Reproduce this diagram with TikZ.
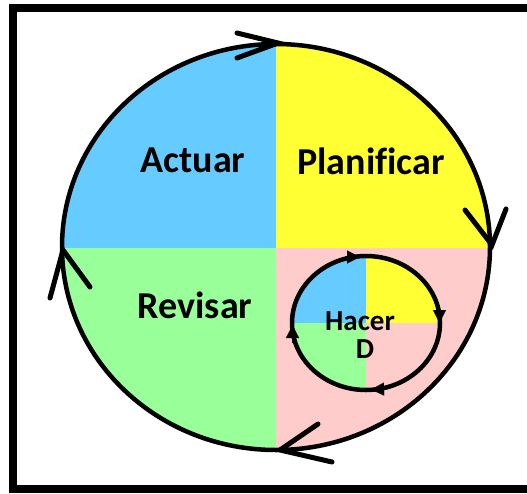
\documentclass[tikz,border=0pt]{standalone}
\usepackage{fontspec}
\setmainfont{Carlito}[Ligatures=NoCommon]
\usetikzlibrary{arrows.meta}
\definecolor{cblue}{HTML}{66CCFF}
\definecolor{cyellow}{HTML}{FFFF33}
\definecolor{cgreen}{HTML}{99FF99}
\definecolor{cpink}{HTML}{FFCCCC}
\tikzset{
  bigring/.style={line width=4.5pt},
  vhead/.style={line width=5pt, line cap=round},
  smallring/.style={line width=4.5pt},
  smallhead/.style={-{Triangle[length=13pt,width=13pt]}, line width=0.1pt},
  bigtxt/.style={font=\fontsize{38}{40}\selectfont\bfseries, anchor=base, inner sep=0pt},
  smalltxt/.style={font=\fontsize{29}{30}\selectfont\bfseries, anchor=base, inner sep=0pt},
}
\begin{document}
\begin{tikzpicture}[x=1pt,y=-1pt]
\useasboundingbox (0,0) rectangle (527,493);
% frame
\draw[line width=8pt] (13,493) -- (13,8) -- (527,8);
\draw[line width=8pt] (9,489) -- (527,489);
% big circle quadrants
\begin{scope}
  \clip (276,247) ellipse [x radius=214, y radius=203];
  \fill[cblue] (50,30) rectangle (276,248);
  \fill[cyellow] (276,30) rectangle (500,248);
  \fill[cgreen] (50,248) rectangle (276,460);
  \fill[cpink] (276,248) rectangle (500,460);
\end{scope}
\coordinate (C) at (276,247);
\draw[bigring] (C) ellipse [x radius=214, y radius=203];
% big arrowheads (open V)
\coordinate (tT) at (278,43);
\coordinate (tR) at (492,245);
\coordinate (tB) at (280,450);
\coordinate (tL) at (63,250);
\draw[vhead] (237,33) -- (tT) -- (237,58);
\draw[vhead] (465,210) -- (tR) -- (506,209);
\draw[vhead] (318,424) -- (tB) -- (332,462);
\draw[vhead] (50,298) -- (tL) -- (90,287);
% small circle
\coordinate (c) at (366,323);
\begin{scope}
  \clip (c) ellipse [x radius=74, y radius=67];
  \fill[cblue] (290,255) rectangle (366,323);
  \fill[cyellow] (366,255) rectangle (442,323);
  \fill[cgreen] (290,323) rectangle (366,392);
\end{scope}
\draw[smallring] (c) ellipse [x radius=74, y radius=67];
% small arrowheads
\draw[smallhead] (344,257) -- (360,257);
\draw[smallhead] (439.5,305) -- (439.5,323);
\draw[smallhead] (388,389) -- (371,389.5);
\draw[smallhead] (292.5,343) -- (292.5,325);
% labels
\node[bigtxt] (act) at (193,172) {Actuar};
\node[bigtxt] (pla) at (371,174) {Planificar};
\node[bigtxt] (rev) at (195,318) {Revisar};
\node[smalltxt] (hac) at (360,330) {Hacer};
\node[smalltxt] (d) at (365,358) {D};
\end{tikzpicture}
\end{document}
